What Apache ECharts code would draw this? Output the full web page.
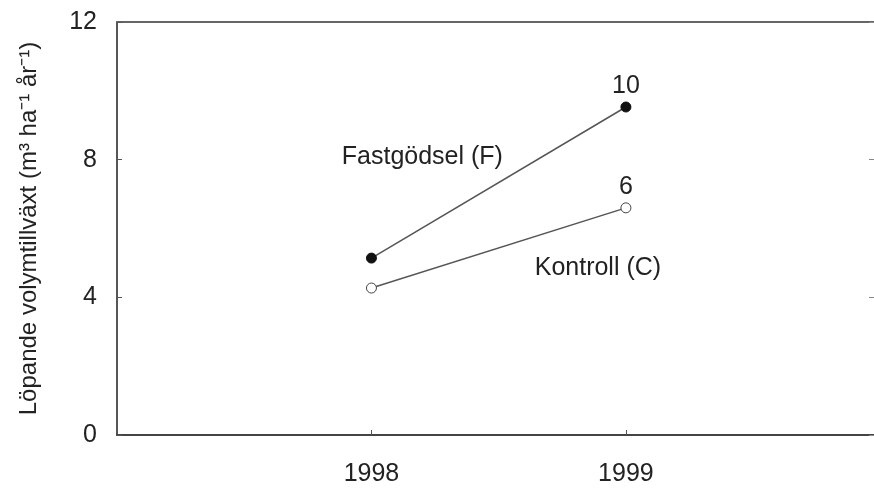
<!DOCTYPE html>
<html><head><meta charset="utf-8">
<script src="https://cdn.jsdelivr.net/npm/echarts@6/dist/echarts.min.js"></script>
<style>html,body{margin:0;padding:0;background:#fff}#c{width:874px;height:488px}</style>
</head><body><div id="c"></div>
<script>
const years = [1998, 1999];
const fastgodsel = [5.14, 9.53];
const kontroll = [4.27, 6.6];
const endLabels = ['10', '6'];
const yTicks = [0, 4, 8, 12];
const seriesNames = ['Fastgödsel (F)', 'Kontroll (C)'];
const annot = [[1998.20, 8.08], [1998.89, 4.85]];
const xRange = [1997, 1999.975];

const font = 'Liberation Sans, Arial, sans-serif';
const ink = '#222';
const lineCol = '#555';
const fs = 25;
const chart = echarts.init(document.getElementById('c'));
chart.setOption({
  animation: false,
  backgroundColor: '#fff',
  grid: { left: 117, top: 22, right: 0, bottom: 53 },
  xAxis: [{
    type: 'value', min: xRange[0], max: xRange[1], interval: 1,
    axisLine: { show: true, onZero: false, lineStyle: { color: '#444', width: 1.8 } },
    axisTick: { show: true, inside: true, length: 5, lineStyle: { color: lineCol }, customValues: years },
    axisLabel: { customValues: years, formatter: v => String(v), fontFamily: font, fontSize: fs, color: ink, margin: 27 },
    splitLine: { show: false }
  }, {
    type: 'value', position: 'top', min: xRange[0], max: xRange[1],
    axisLine: { show: true, onZero: false, lineStyle: { color: '#666', width: 1.8 } },
    axisTick: { show: false }, axisLabel: { show: false }, splitLine: { show: false }
  }],
  yAxis: [{
    type: 'value', min: 0, max: 12, interval: 4,
    axisLine: { show: true, onZero: false, lineStyle: { color: '#444', width: 1.8 } },
    axisTick: { show: true, inside: true, length: 5, lineStyle: { color: lineCol } },
    axisLabel: { fontFamily: font, fontSize: fs, color: ink, margin: 20 },
    splitLine: { show: false },
    name: 'Löpande volymtillväxt (m³ ha⁻¹ år⁻¹)',
    nameLocation: 'middle', nameGap: 76, nameRotate: 90,
    nameTextStyle: { fontFamily: font, fontSize: 24, color: ink }
  }, {
    type: 'value', position: 'right', min: 0, max: 12, interval: 4,
    axisLine: { show: false },
    axisTick: { show: true, inside: true, length: 5, lineStyle: { color: '#888' } },
    axisLabel: { show: false }, splitLine: { show: false }
  }],
  series: [{
    name: seriesNames[0], type: 'line',
    data: years.map((y, i) => [y, fastgodsel[i]]),
    symbol: 'circle', symbolSize: 10,
    itemStyle: { color: '#111', borderColor: '#111', borderWidth: 1 },
    lineStyle: { color: lineCol, width: 1.5 },
    label: { show: true, position: 'top', distance: 3, fontFamily: font, fontSize: fs, color: ink,
      formatter: p => p.dataIndex === 1 ? endLabels[0] : '' },
    markPoint: { symbol: 'circle', symbolSize: 0, data: [{ coord: annot[0], value: seriesNames[0] }],
      label: { show: true, position: 'inside', formatter: seriesNames[0], fontFamily: font, fontSize: fs, color: ink } }
  }, {
    name: seriesNames[1], type: 'line',
    data: years.map((y, i) => [y, kontroll[i]]),
    symbol: 'circle', symbolSize: 10,
    itemStyle: { color: '#fff', borderColor: '#444', borderWidth: 1 },
    lineStyle: { color: lineCol, width: 1.5 },
    label: { show: true, position: 'top', distance: 3, fontFamily: font, fontSize: fs, color: ink,
      formatter: p => p.dataIndex === 1 ? endLabels[1] : '' },
    markPoint: { symbol: 'circle', symbolSize: 0, data: [{ coord: annot[1], value: seriesNames[1] }],
      label: { show: true, position: 'inside', formatter: seriesNames[1], fontFamily: font, fontSize: fs, color: ink } }
  }]
});
</script></body></html>
